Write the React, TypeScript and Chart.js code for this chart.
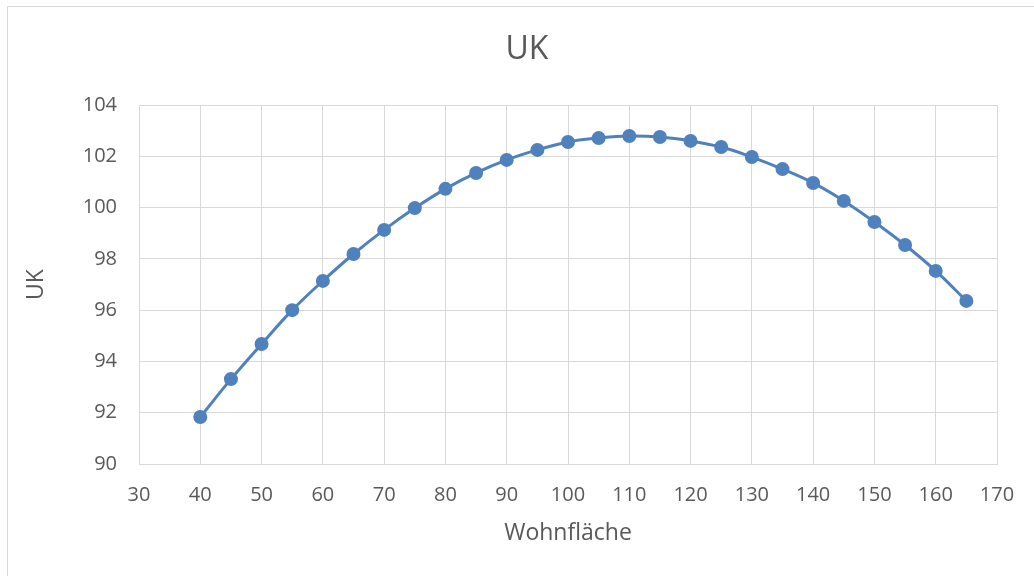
import React, { useEffect, useRef } from "react";
import { Chart, registerables } from "chart.js";

Chart.register(...registerables);

const wohnflaeche = [40, 45, 50, 55, 60, 65, 70, 75, 80, 85, 90, 95, 100, 105, 110, 115, 120, 125, 130, 135, 140, 145, 150, 155, 160, 165];
const ukValues = [91.83, 93.31, 94.68, 96.0, 97.14, 98.19, 99.13, 99.98, 100.73, 101.35, 101.86, 102.25, 102.56, 102.71, 102.79, 102.75, 102.6, 102.36, 101.97, 101.5, 100.96, 100.26, 99.44, 98.54, 97.53, 96.36];
const chartTitle = "UK";
const xTitle = "Wohnfläche";
const yTitle = "UK";

const FONT = "'Open Sans', sans-serif";
const TEXT = "#595959";
const GRID = "#d9d9d9";
const BLUE = "#4f81bd";

const borderPlugin = {
  id: "outerBorder",
  beforeDraw(chart: any) {
    const ctx = chart.ctx;
    ctx.save();
    ctx.fillStyle = "#ffffff";
    ctx.fillRect(0, 0, chart.width, chart.height);
    ctx.strokeStyle = GRID;
    ctx.lineWidth = 1;
    ctx.strokeRect(7.5, 6.5, 1100, 700);
    ctx.restore();
  },
};

export default function App() {
  const ref = useRef<HTMLCanvasElement>(null);
  useEffect(() => {
    const data = wohnflaeche.map((x, i) => ({ x, y: ukValues[i] }));
    const chart = new Chart(ref.current!, {
      type: "scatter",
      data: {
        datasets: [
          {
            data,
            showLine: true,
            borderColor: BLUE,
            backgroundColor: BLUE,
            borderWidth: 3,
            pointRadius: 7,
            pointHoverRadius: 7,
            pointBorderWidth: 0,
            tension: 0.4,
          },
        ],
      },
      options: {
        responsive: false,
        animation: false,
        layout: { padding: { left: 20, right: 0, top: 0, bottom: 0 } },
        plugins: {
          legend: { display: false },
          tooltip: { enabled: false },
          title: {
            display: true,
            text: chartTitle,
            color: TEXT,
            font: { family: FONT, size: 32, weight: "normal", lineHeight: 1.2 },
            padding: { top: 31, bottom: 35.6 },
          },
        },
        scales: {
          x: {
            type: "linear",
            min: 30,
            max: 170,
            ticks: { stepSize: 10, color: TEXT, font: { family: FONT, size: 20 }, padding: 19 },
            grid: { color: GRID, drawTicks: false, tickLength: 0 },
            border: { color: GRID },
            title: {
              display: true,
              text: xTitle,
              color: TEXT,
              font: { family: FONT, size: 23, lineHeight: 1.2 },
              padding: { top: 0, bottom: 29 },
            },
            afterFit(scale: any) {
              scale.height = 112;
            },
          },
          y: {
            min: 90,
            max: 104,
            ticks: { stepSize: 2, color: TEXT, font: { family: FONT, size: 20 }, padding: 22 },
            grid: { color: GRID, drawTicks: false, tickLength: 0 },
            border: { color: GRID },
            title: {
              display: true,
              text: yTitle,
              color: TEXT,
              font: { family: FONT, size: 23, lineHeight: 1.2 },
              padding: { top: 3, bottom: 0 },
            },
            afterFit(scale: any) {
              scale.width = 119;
            },
          },
          ySpace: {
            type: "linear",
            position: "right",
            display: true,
            grid: { display: false, drawTicks: false },
            ticks: { display: false },
            border: { display: false },
            afterFit(scale: any) {
              scale.width = 37;
            },
          },
        },
      },
      plugins: [borderPlugin],
    } as any);
    return () => chart.destroy();
  }, []);
  return (
    <div style={{ position: "fixed", left: 0, top: 0, width: 1034, height: 576 }}>
      <canvas ref={ref} width={1034} height={576} style={{ width: 1034, height: 576, display: "block" }} />
    </div>
  );
}
